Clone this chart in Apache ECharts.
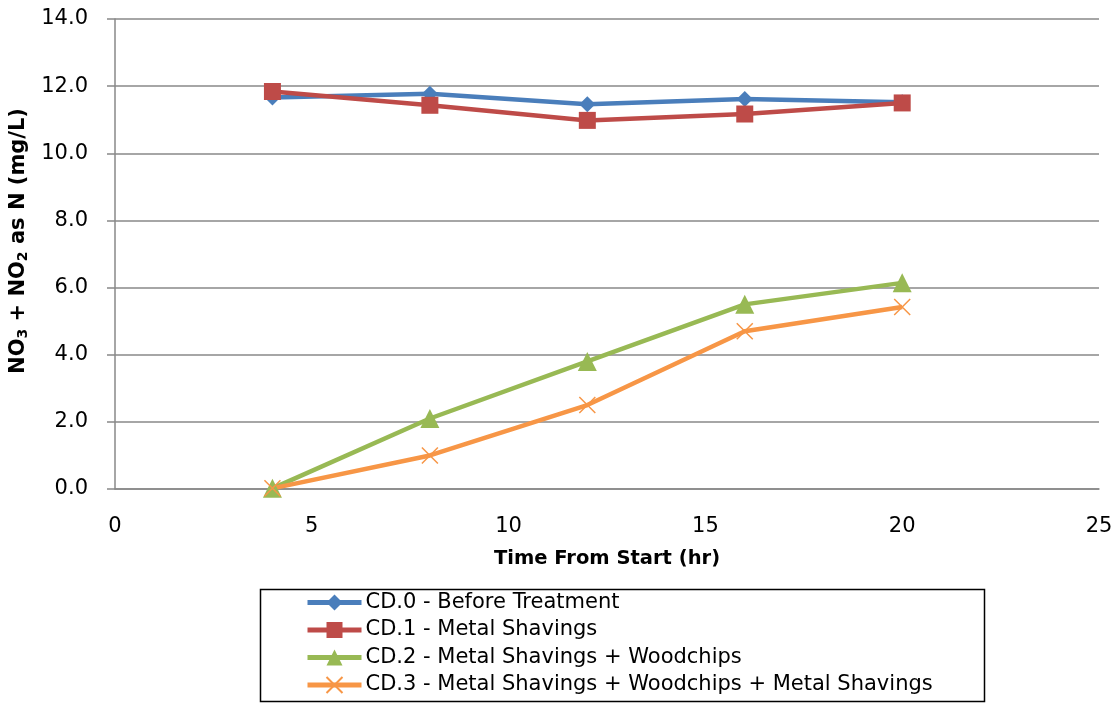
<!DOCTYPE html>
<html>
<head>
<meta charset="utf-8">
<script src="https://cdn.jsdelivr.net/npm/echarts@6/dist/echarts.min.js"></script>
<style>
  html, body { margin: 0; padding: 0; background: #fff; }
  #chart { width: 1120px; height: 703px; }
</style>
</head>
<body>
<div id="chart"></div>
<script>
// Sampling times (hours from start)
const hours = [4, 8, 12, 16, 20];

// NO3 + NO2 as N (mg/L) for each column
const cd0 = [11.66, 11.77, 11.46, 11.62, 11.52];
const cd1 = [11.84, 11.43, 10.98, 11.17, 11.50];
const cd2 = [0.02, 2.10, 3.80, 5.50, 6.14];
const cd3 = [0.02, 1.00, 2.50, 4.70, 5.42];

const seriesNames = [
  'CD.0 - Before Treatment',
  'CD.1 - Metal Shavings',
  'CD.2 - Metal Shavings + Woodchips',
  'CD.3 - Metal Shavings + Woodchips + Metal Shavings'
];

const FONT = 'DejaVu Sans';

function pairs(ys) { return hours.map((h, i) => [h, ys[i]]); }

function lineSeries(name, ys, color, symbol, size, extraItem) {
  return {
    name: name,
    type: 'line',
    data: pairs(ys),
    symbol: symbol,
    symbolSize: size,
    lineStyle: { color: color, width: 4.5 },
    itemStyle: Object.assign({ color: color }, extraItem || {}),
    emphasis: { disabled: true },
    z: 3
  };
}

const chart = echarts.init(document.getElementById('chart'), null, { renderer: 'canvas' });

chart.setOption({
  animation: false,
  backgroundColor: '#ffffff',
  grid: { left: 115, right: 21, top: 19, bottom: 214 },
  xAxis: {
    type: 'value',
    min: 0, max: 25, interval: 5,
    name: 'Time From Start (hr)',
    nameLocation: 'middle',
    nameGap: 60,
    nameTextStyle: { fontFamily: FONT, fontWeight: 'bold', fontSize: 19.5, color: '#000' },
    axisLine: { show: true, lineStyle: { color: '#888', width: 1.5 } },
    axisTick: { show: false },
    axisLabel: { fontFamily: FONT, fontSize: 21, color: '#000', margin: 27 },
    splitLine: { show: false }
  },
  yAxis: {
    type: 'value',
    min: 0, max: 14, interval: 2,
    name: 'NO{sub|3} + NO{sub|2} as N (mg/L)',
    nameLocation: 'middle',
    nameGap: 72,
    nameRotate: 90,
    nameTextStyle: {
      fontFamily: FONT, fontWeight: 'bold', fontSize: 21, color: '#000',
      padding: [0, 0, 0, 26],
      rich: {
        sub: { fontFamily: FONT, fontWeight: 'bold', fontSize: 14, color: '#000', padding: [9, 0, 0, 0] }
      }
    },
    axisLine: { show: true, lineStyle: { color: '#888', width: 1.5 } },
    axisTick: { show: true, inside: false, length: 8, lineStyle: { color: '#888', width: 1.5 } },
    axisLabel: {
      fontFamily: FONT, fontSize: 21, color: '#000', margin: 27,
      formatter: v => v.toFixed(1)
    },
    splitLine: { show: true, lineStyle: { color: '#888', width: 1.5 } }
  },
  legend: {
    orient: 'vertical',
    left: 305,
    top: 591.5,
    itemWidth: 54,
    itemHeight: 20,
    itemGap: 5.5,
    padding: 0,
    lineStyle: { width: 5 },
    textStyle: { fontFamily: FONT, fontSize: 21, lineHeight: 22, color: '#000', padding: [0, 0, 0, -1] },
    data: seriesNames
  },
  graphic: [{
    type: 'rect',
    left: 258, top: 587,
    shape: { width: 724, height: 112 },
    style: { fill: 'none', stroke: '#000', lineWidth: 1.5 },
    silent: true
  }],
  series: [
    lineSeries(seriesNames[0], cd0, '#4A7EBB', 'diamond', 16),
    lineSeries(seriesNames[1], cd1, '#BE4B48', 'rect', 17),
    lineSeries(seriesNames[2], cd2, '#98B954', 'triangle', 19),
    lineSeries(seriesNames[3], cd3, '#F79646', 'path://M0,0L10,10M10,0L0,10', 16,
      { borderColor: '#F79646', borderWidth: 1.5 })
  ]
});
</script>
</body>
</html>
